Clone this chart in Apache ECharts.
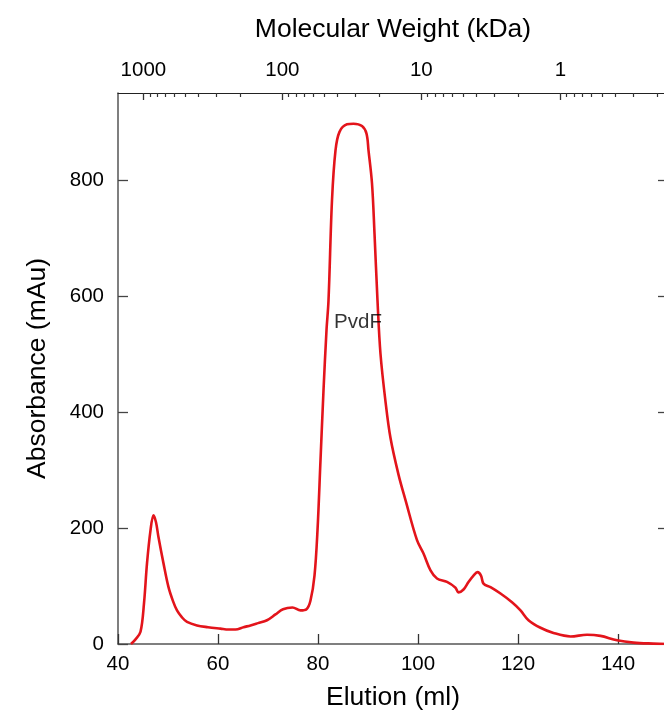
<!DOCTYPE html>
<html>
<head>
<meta charset="utf-8">
<script src="https://cdn.jsdelivr.net/npm/echarts@6/dist/echarts.min.js"></script>
<style>
html,body{margin:0;padding:0;overflow:hidden;background:#fff;}
#c{width:700px;height:717px;}
</style>
</head>
<body>
<div id="c"></div>
<script>
// Elution volume (ml)
const elution = [42.6,43.5,44.5,45.2,45.8,46.5,47.1,47.6,48.1,49.1,50.1,51.0,51.8,52.8,53.8,55.8,58.0,60.5,62.1,63.5,65.1,66.5,68.0,69.8,71.5,73.0,74.9,76.5,77.7,78.5,79.3,79.9,80.5,81.1,81.7,82.1,82.8,83.5,84.3,85.8,87.1,88.8,89.7,90.1,90.8,91.3,91.9,92.5,93.5,94.5,96.1,97.5,99.8,101.1,102.5,103.8,105.8,107.5,108.1,109.1,110.1,111.1,111.9,112.6,113.1,114.5,116.5,118.8,120.5,122.1,124.5,127.1,130.5,133.8,136.5,139.8,143.1,147.0,150.0];
// Absorbance (mAu)
const absorbance = [0,8,21,70,139,196,222,210,184,139,98,74,58,46,38,32,29,26.5,25,25,29,32,36,41,51,60,63,58,60,75,118,196,317,437,541,592,765,851,883,896,897,893,880,851,794,708,592,500,418,355,292,248,179,156,127,113,107,97,89,94,107,118,124,118,104,98,87,72,58,41,28,19,13,16,14,6.4,2.4,0.7,0];
// Tick labels
const elutionTicks = [40,60,80,100,120,140];
const absorbanceTicks = [0,200,400,600,800];
const mwMajor = [1000,100,10,1];
const mwMinor = [900,800,700,600,500,400,300,200,90,80,70,60,50,40,30,20,9,8,7,6,5,4,3,2,0.9,0.8,0.7,0.6,0.5,0.4,0.3,0.2];
// Annotation
const peakLabel = 'PvdF';
const peakLabelAt = [88, 555];

const elutionRange = [40, 150];
const mwRange = [1523, 0.168];   // MW (kDa) at the left and right edges

const logMin = Math.log10(mwRange[1]);
const logMax = Math.log10(mwRange[0]);
const FONT = 'Liberation Sans';
const axisColor = '#555';
const TICK_FS = 20.5;
const NAME_FS = 26.5;

const chart = echarts.init(document.getElementById('c'));
chart.setOption({
  animation: false,
  textStyle: {fontFamily: FONT},
  grid: {left: 118, right: 32, top: 93, bottom: 73, containLabel: false, outerBoundsMode: 'none'},
  xAxis: [
    {
      type: 'value', position: 'bottom',
      min: elutionRange[0], max: elutionRange[1], interval: 20,
      name: 'Elution (ml)', nameLocation: 'middle', nameGap: 40,
      nameTextStyle: {fontSize: NAME_FS, color: '#000', fontFamily: FONT},
      axisLine: {show: true, onZero: false, lineStyle: {color: axisColor, width: 1.5}},
      axisTick: {show: true, inside: true, length: 10, customValues: elutionTicks, lineStyle: {color: '#333', width: 1.3}},
      axisLabel: {fontSize: TICK_FS, color: '#000', margin: 10, customValues: elutionTicks, fontFamily: FONT},
      splitLine: {show: false}
    },
    {
      type: 'value', position: 'top', inverse: true,
      min: logMin, max: logMax,
      name: 'Molecular Weight (kDa)', nameLocation: 'middle', nameGap: 50,
      nameTextStyle: {fontSize: NAME_FS, color: '#000', fontFamily: FONT},
      axisLine: {show: true, onZero: false, lineStyle: {color: '#222', width: 1.2}},
      axisTick: {show: true, inside: true, length: 7, customValues: mwMajor.map(Math.log10), lineStyle: {color: '#333', width: 1.3}},
      axisLabel: {fontSize: TICK_FS, color: '#000', margin: 12, fontFamily: FONT,
        customValues: mwMajor.map(Math.log10),
        formatter: v => String(Math.round(Math.pow(10, v) * 1000) / 1000)},
      splitLine: {show: false}
    },
    {
      type: 'value', position: 'top', inverse: true,
      min: logMin, max: logMax,
      axisLine: {show: false, onZero: false},
      axisTick: {show: true, inside: true, length: 4, customValues: mwMinor.map(Math.log10), lineStyle: {color: '#333', width: 1.2}},
      axisLabel: {show: false},
      splitLine: {show: false}
    }
  ],
  yAxis: [
    {
      type: 'value', position: 'left',
      min: 0, max: 950,
      name: 'Absorbance (mAu)', nameLocation: 'middle', nameGap: 67,
      nameTextStyle: {fontSize: NAME_FS, color: '#000', fontFamily: FONT},
      axisLine: {show: true, onZero: false, lineStyle: {color: axisColor, width: 1.5}},
      axisTick: {show: true, inside: true, length: 10, customValues: absorbanceTicks, lineStyle: {color: '#444', width: 1.3}},
      axisLabel: {fontSize: TICK_FS, color: '#000', margin: 14, customValues: absorbanceTicks, fontFamily: FONT},
      splitLine: {show: false}
    },
    {
      type: 'value', position: 'right',
      min: 0, max: 950,
      axisLine: {show: true, onZero: false, lineStyle: {color: axisColor, width: 1.5}},
      axisTick: {show: true, inside: true, length: 10, customValues: absorbanceTicks.slice(1), lineStyle: {color: '#444', width: 1.3}},
      axisLabel: {show: false},
      splitLine: {show: false}
    }
  ],
  series: [
    {
      type: 'line', xAxisIndex: 0, yAxisIndex: 0,
      data: elution.map((x, i) => [x, absorbance[i]]),
      showSymbol: false, smooth: 0.35,
      lineStyle: {color: '#e3141b', width: 2.6},
      z: 3
    },
    {
      type: 'scatter', xAxisIndex: 0, yAxisIndex: 0,
      data: [peakLabelAt],
      symbolSize: 0,
      label: {show: true, position: 'inside', formatter: peakLabel, fontSize: TICK_FS, color: '#000', fontFamily: FONT},
      silent: true, z: 4
    }
  ]
});
</script>
</body>
</html>
